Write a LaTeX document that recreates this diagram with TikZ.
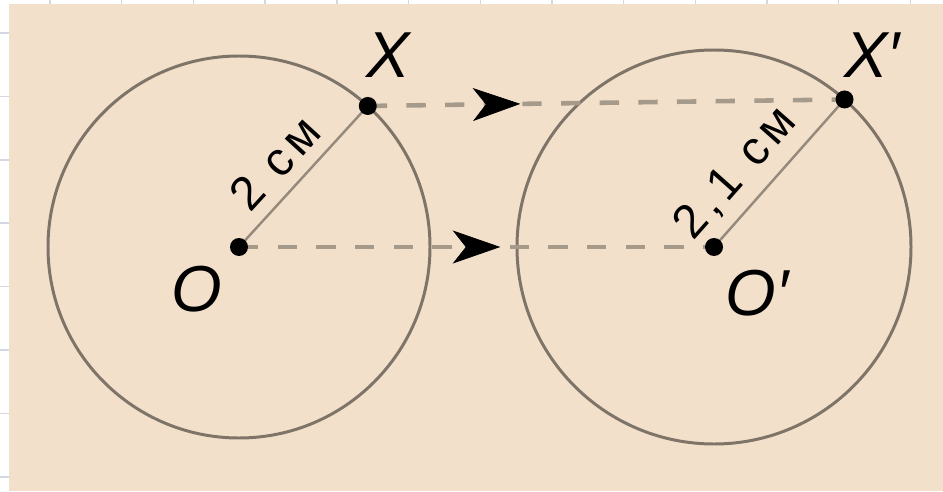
\documentclass[tikz,border=0pt]{standalone}
\usepackage{fontspec}
\setmainfont{Liberation Sans}
\newfontfamily\radfont[LetterSpace=12]{Liberation Sans}
\usetikzlibrary{arrows.meta,decorations.markings,calc}

\definecolor{papel}{HTML}{F3E0CB}
\definecolor{grade}{HTML}{D3D7E2}
\definecolor{contorno}{HTML}{7F7468}
\definecolor{raio}{HTML}{968A7C}
\definecolor{tracejado}{HTML}{A69A8B}

\tikzset{
  circulo/.style={draw=contorno, line width=1.7pt},
  segraio/.style={draw=raio, line width=1.4pt},
  seta/.style={draw=tracejado, line width=2.6pt, dash pattern=on 11pt off 11pt},
  ponto/.style={circle, fill=black, inner sep=0pt, minimum size=0.36cm},
  rotulo/.style={inner sep=0pt, font=\fontsize{37}{40}\selectfont\itshape},
  medida/.style={inner sep=0pt, font=\fontsize{27}{30}\radfont},
}

\begin{document}
\begin{tikzpicture}[x=0.02cm,y=0.02cm]
                \useasboundingbox (0,0) rectangle (943,491);
                \fill[white] (0,0) rectangle (943,491);
                % grade do papel
                \foreach \gx in {0,...,12}{
                    \draw[grade, line width=0.8pt] ({50+71.7*\gx},0) -- ++(0,491);
                }
                \foreach \gy in {0,...,7}{
                    \draw[grade, line width=0.8pt] (0,{458-63.4*\gy}) -- ++(943,0);
                }
                \fill[papel] (9,0) rectangle (943,487); % fundo

                \coordinate (O) at (239,244);
                \coordinate (X) at ($(O)+(47.6:191)$);
                \coordinate (O') at (714,244);
                \coordinate (X') at ($(O')+(48.5:197)$);

                \draw[circulo] (O) circle[radius=191]; % circulo 1
                \draw[circulo] (O') circle[radius=197]; % circulo 2

                \draw[segraio] (O) -- (X); % raio 2 cm
                \draw[segraio] (O') -- (X'); % raio 2,1 cm

                \draw[seta] (X) -- (X'); % X -- X'
                \draw[seta] (O) -- (O'); % O -- O'

                % pontas das setas
                \path[black, decoration={markings, mark=at position 0.32 with {\arrow{Stealth[length=0.95cm,width=0.66cm,inset=0.26cm]}}}, decorate] (X) -- (X');
                \path[black, decoration={markings, mark=at position 0.55 with {\arrow{Stealth[length=0.95cm,width=0.66cm,inset=0.26cm]}}}, decorate] (O) -- (O');

                % pontos pretos
                \foreach \P in {O,X,O',X'}{
                    \node[ponto] (p\P) at (\P) {};
                }

                \node[rotulo] (lO) at (197,202) {O};
                \node[rotulo] (lX) at (388,436) {X};
                \node[rotulo] (lO') at (757,198) {O′};
                \node[rotulo] (lX') at (872,436) {X′};

                \node[medida, rotate=47.6] (m1) at (275,328) {2 см};
                \node[medida, rotate=48.5] (m2) at (736,318) {2,1 см};
\end{tikzpicture}
\end{document}
